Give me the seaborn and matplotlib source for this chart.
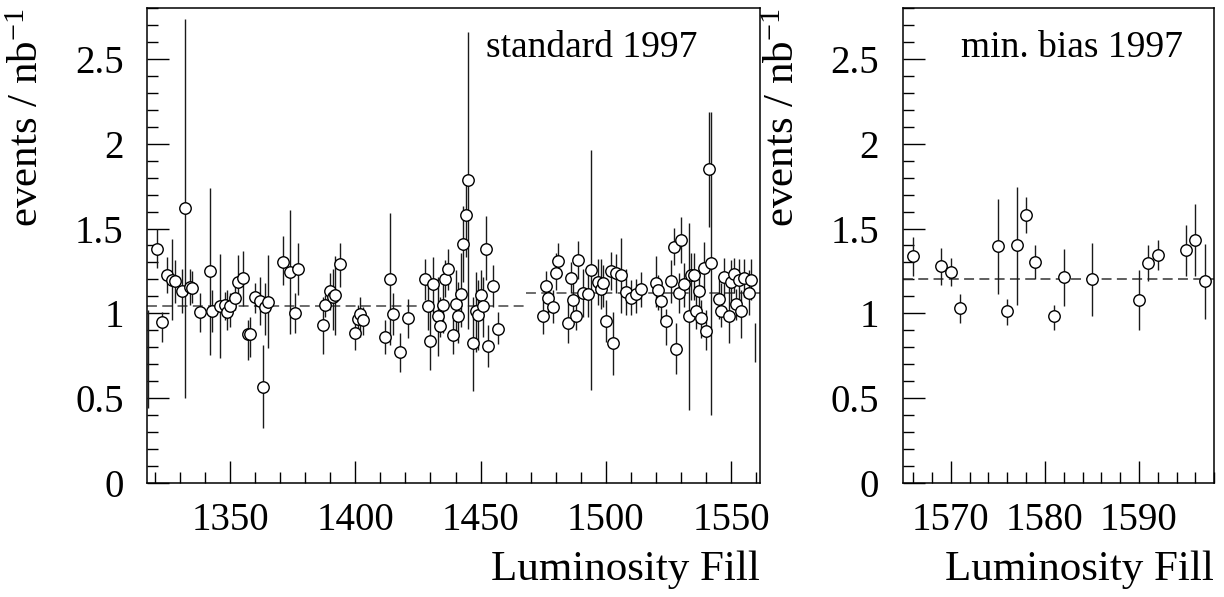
import numpy as np
import matplotlib
matplotlib.use("Agg")
import matplotlib.pyplot as plt
from matplotlib.ticker import MultipleLocator, FuncFormatter
import seaborn as sns

# ---------------- data: standard 1997 ----------------
std_fill = [1321, 1323, 1325, 1327, 1328, 1331, 1332, 1334, 1335, 1338, 1342, 1343, 1346, 1348, 1349,
            1350, 1352, 1353, 1355, 1357, 1358, 1360, 1362, 1363, 1364, 1365, 1371, 1374, 1376, 1377,
            1387, 1388, 1390, 1391, 1392, 1394, 1400, 1401, 1402, 1403, 1412, 1414, 1415, 1418, 1421,
            1428, 1429, 1430, 1431, 1433, 1434, 1435, 1436, 1437, 1439, 1440, 1441, 1442, 1443, 1444,
            1445, 1447, 1448, 1449, 1450, 1451, 1452, 1453, 1455, 1457, 1475, 1476, 1477, 1479, 1480,
            1481, 1485, 1486, 1487, 1488, 1489, 1491, 1493, 1494, 1497, 1498, 1499, 1500, 1502, 1503,
            1504, 1506, 1508, 1510, 1512, 1514, 1520, 1521, 1522, 1524, 1526, 1527, 1528, 1529, 1530,
            1531, 1533, 1534, 1535, 1536, 1537, 1538, 1539, 1540, 1541, 1542, 1545, 1546, 1547, 1549,
            1550, 1551, 1552, 1553, 1554, 1555, 1557, 1558]
std_val = [1.38, 0.95, 1.223, 1.199, 1.188, 1.134, 1.619, 1.156, 1.15, 1.007, 1.247, 1.014, 1.044, 1.048, 1.009,
           1.044, 1.091, 1.182, 1.209, 0.875, 0.875, 1.093, 1.071, 0.566, 1.034, 1.064, 1.30, 1.243, 1.001, 1.26,
           0.932, 1.048, 1.129, 1.093, 1.107, 1.288, 0.881, 0.965, 0.993, 0.961, 0.859, 1.205, 0.997, 0.77, 0.973,
           1.201, 1.044, 0.835, 1.17, 0.981, 0.926, 1.05, 1.201, 1.262, 0.871, 1.052, 0.985, 1.111, 1.408, 1.579,
           1.788, 0.822, 1.011, 0.991, 1.105, 1.04, 1.38, 0.804, 1.158, 0.91, 0.983, 1.158, 1.091, 1.034, 1.239,
           1.308, 0.942, 1.209, 1.077, 0.981, 1.314, 1.121, 1.111, 1.254, 1.186, 1.142, 1.176, 0.953, 1.247, 0.825,
           1.237, 1.223, 1.127, 1.091, 1.113, 1.144, 1.176, 1.136, 1.071, 0.953, 1.19, 1.394, 0.788, 1.121, 1.43,
           1.172, 0.985, 1.225, 1.225, 1.011, 1.134, 0.973, 1.27, 0.898, 1.849, 1.294, 1.087, 1.016, 1.215, 0.985,
           1.184, 1.233, 1.056, 1.194, 1.013, 1.209, 1.121, 1.199]
std_hi = [1.50, 1.008, 1.333, 1.436, 1.313, 1.264, 2.735, 1.264, 1.25, 1.121, 1.737, 1.136, 1.347, 1.127, 1.136,
          1.121, 1.176, 1.343, 1.367, 0.959, 0.98, 1.176, 1.215, 0.812, 1.176, 1.343, 1.455, 1.609, 1.117, 1.412,
          1.097, 1.107, 1.235, 1.264, 1.337, 1.416, 0.959, 1.048, 1.097, 1.038, 0.959, 1.589, 1.121, 0.881, 1.087,
          1.323, 1.156, 1.018, 1.333, 1.215, 1.097, 1.196, 1.313, 1.382, 0.989, 1.254, 1.186, 1.353, 1.633, 1.815,
          2.658, 1.097, 1.245, 1.196, 1.254, 1.215, 1.573, 0.93, 1.284, 1.008, 1.087, 1.251, 1.17, 1.136, 1.353,
          1.412, 1.068, 1.304, 1.176, 1.048, 1.428, 1.264, 1.255, 1.963, 1.318, 1.323, 1.284, 1.077, 1.363, 1.008,
          1.349, 1.447, 1.264, 1.196, 1.205, 1.245, 1.337, 1.225, 1.166, 1.028, 1.314, 1.501, 0.94, 1.235, 1.569,
          1.294, 1.534, 1.353, 1.353, 1.136, 1.264, 1.077, 1.422, 1.018, 2.19, 2.19, 1.196, 1.176, 1.329, 1.156,
          1.314, 1.329, 1.146, 1.323, 1.136, 1.323, 1.255, 1.323]
std_lo = [1.265, 0.83, 1.117, 0.959, 1.058, 1.003, 0.497, 1.048, 1.058, 0.89, 0.753, 0.89, 0.737, 0.959, 0.90,
          0.92, 1.018, 1.068, 1.042, 0.723, 0.74, 0.999, 0.93, 0.32, 0.871, 0.792, 1.166, 0.88, 0.881, 1.107,
          0.759, 0.979, 1.018, 0.90, 0.871, 1.156, 0.782, 0.871, 0.861, 0.871, 0.759, 0.812, 0.871, 0.654, 0.851,
          1.077, 0.90, 0.664, 0.999, 0.749, 0.861, 0.881, 1.097, 1.136, 0.759, 0.871, 0.822, 0.92, 1.186, 1.333,
          0.91, 0.542, 0.772, 0.782, 0.959, 0.861, 1.195, 0.68, 1.038, 0.818, 0.877, 1.097, 1.00, 0.94, 1.136,
          1.235, 0.822, 1.117, 0.969, 0.90, 1.205, 0.979, 0.979, 0.546, 1.048, 1.028, 1.038, 0.831, 1.136, 0.635,
          1.117, 0.999, 0.989, 0.989, 0.999, 1.038, 1.038, 1.018, 0.969, 0.812, 1.058, 1.284, 0.644, 0.999, 1.294,
          1.038, 0.428, 1.077, 1.077, 0.91, 0.999, 0.851, 1.136, 0.782, 1.51, 0.398, 0.969, 0.92, 1.097, 0.822,
          1.048, 1.117, 0.959, 1.058, 0.851, 1.097, 0.989, 1.077]
# bars whose markers fall on the frame edge (no visible marker)
edge_fill = [1317.3, 1559.6]
edge_hi = [1.02, 0.94]
edge_lo = [0.44, 0.71]
std_mean_fill = [1317.0, 1468.0, 1561.4]
std_mean_val = [1.044, 1.121]

# ---------------- data: min. bias 1997 ----------------
mb_fill = [1566, 1569, 1570, 1571, 1575, 1576, 1577, 1578, 1579, 1581, 1582, 1585, 1590, 1591, 1592,
           1595, 1596, 1597]
mb_val = [1.337, 1.278, 1.243, 1.032, 1.396, 1.012, 1.40, 1.58, 1.302, 0.982, 1.213, 1.203, 1.081, 1.298,
          1.343, 1.373, 1.432, 1.193]
mb_hi = [1.452, 1.387, 1.327, 1.116, 1.673, 1.087, 1.748, 1.688, 1.40, 1.051, 1.381, 1.412, 1.258, 1.40,
         1.432, 1.519, 1.645, 1.406]
mb_lo = [1.219, 1.164, 1.16, 0.943, 1.116, 0.933, 1.051, 1.475, 1.20, 0.903, 1.041, 0.986, 0.90, 1.189,
         1.258, 1.219, 1.219, 0.966]
mb_mean_val = 1.20

titles = ["standard 1997", "min. bias 1997"]
ylabel = "events / nb$^{-1}$"
xlabel = "Luminosity Fill"

# ---------------- style ----------------
sns.set_style("ticks")
plt.rcParams["font.family"] = ["Liberation Serif", "DejaVu Serif"]
plt.rcParams["mathtext.fontset"] = "custom"
plt.rcParams["mathtext.rm"] = "Liberation Serif"
plt.rcParams["mathtext.it"] = "Liberation Serif:italic"
plt.rcParams["axes.linewidth"] = 1.1
for k in ["text.color", "axes.labelcolor", "xtick.color", "ytick.color", "axes.edgecolor"]:
    plt.rcParams[k] = "black"

fig = plt.figure(figsize=(12.24, 5.97), dpi=100)
axL = fig.add_axes([147.3 / 1224, 0.1915, 612.4 / 1224, 0.7946])
axR = fig.add_axes([902.7 / 1224, 0.1915, 311.6 / 1224, 0.7946])


def draw(ax, fill, val, hi, lo):
    fill = np.asarray(fill, float)
    val = np.asarray(val, float)
    yerr = np.vstack([val - np.asarray(lo), np.asarray(hi) - val])
    ax.errorbar(fill, val, yerr=yerr, fmt="none", ecolor="#1a1a1a", elinewidth=1.0, capsize=0, zorder=2)
    sns.scatterplot(x=fill, y=val, ax=ax, marker="o", s=68, color="white", edgecolor="black",
                    linewidth=1.0, zorder=3, legend=False)


draw(axL, std_fill, std_val, std_hi, std_lo)
axL.vlines(edge_fill, edge_lo, edge_hi, color="#1a1a1a", lw=1.0, zorder=2)
for i, v in enumerate(std_mean_val):
    axL.hlines(v, std_mean_fill[i], std_mean_fill[i + 1], colors="#444444", lw=1.1,
               linestyles=(0, (6.5, 3.5)), zorder=1)
draw(axR, mb_fill, mb_val, mb_hi, mb_lo)
axR.axhline(mb_mean_val, color="#333333", lw=1.1, ls=(0, (6.5, 3.5)), zorder=1)

axL.set_xlim(1317.0, 1561.4)
axR.set_xlim(1564.9, 1598.0)
axL.xaxis.set_major_locator(MultipleLocator(50))
axL.xaxis.set_minor_locator(MultipleLocator(10))
axR.xaxis.set_major_locator(MultipleLocator(10))
axR.xaxis.set_minor_locator(MultipleLocator(2))

for ax, t in zip([axL, axR], titles):
    ax.set_ylim(0, 2.8)
    ax.yaxis.set_major_locator(MultipleLocator(0.5))
    ax.yaxis.set_minor_locator(MultipleLocator(0.1))
    ax.yaxis.set_major_formatter(FuncFormatter(lambda v, p: f"{v:g}"))
    ax.xaxis.set_major_formatter(FuncFormatter(lambda v, p: f"{v:g}"))
    ax.tick_params(which="both", direction="in", top=False, right=False, color="black", width=1.0)
    ax.tick_params(which="major", length=15.8)
    ax.tick_params(which="minor", length=7.9)
    ax.tick_params(axis="y", which="major", labelsize=28, pad=17)
    ax.tick_params(axis="x", which="major", labelsize=28, pad=14)
    for s in ax.spines.values():
        s.set_visible(True)
        s.set_color("black")
    ax.set_ylabel(ylabel, fontsize=31, loc="top", labelpad=20)
    ax.set_xlabel(xlabel, fontsize=31, loc="right", labelpad=8)
    ax.text(0.898 if ax is axL else 0.90, 0.897, t, transform=ax.transAxes, ha="right",
            va="baseline", fontsize=27)

fig.savefig("out.png", dpi=100)
